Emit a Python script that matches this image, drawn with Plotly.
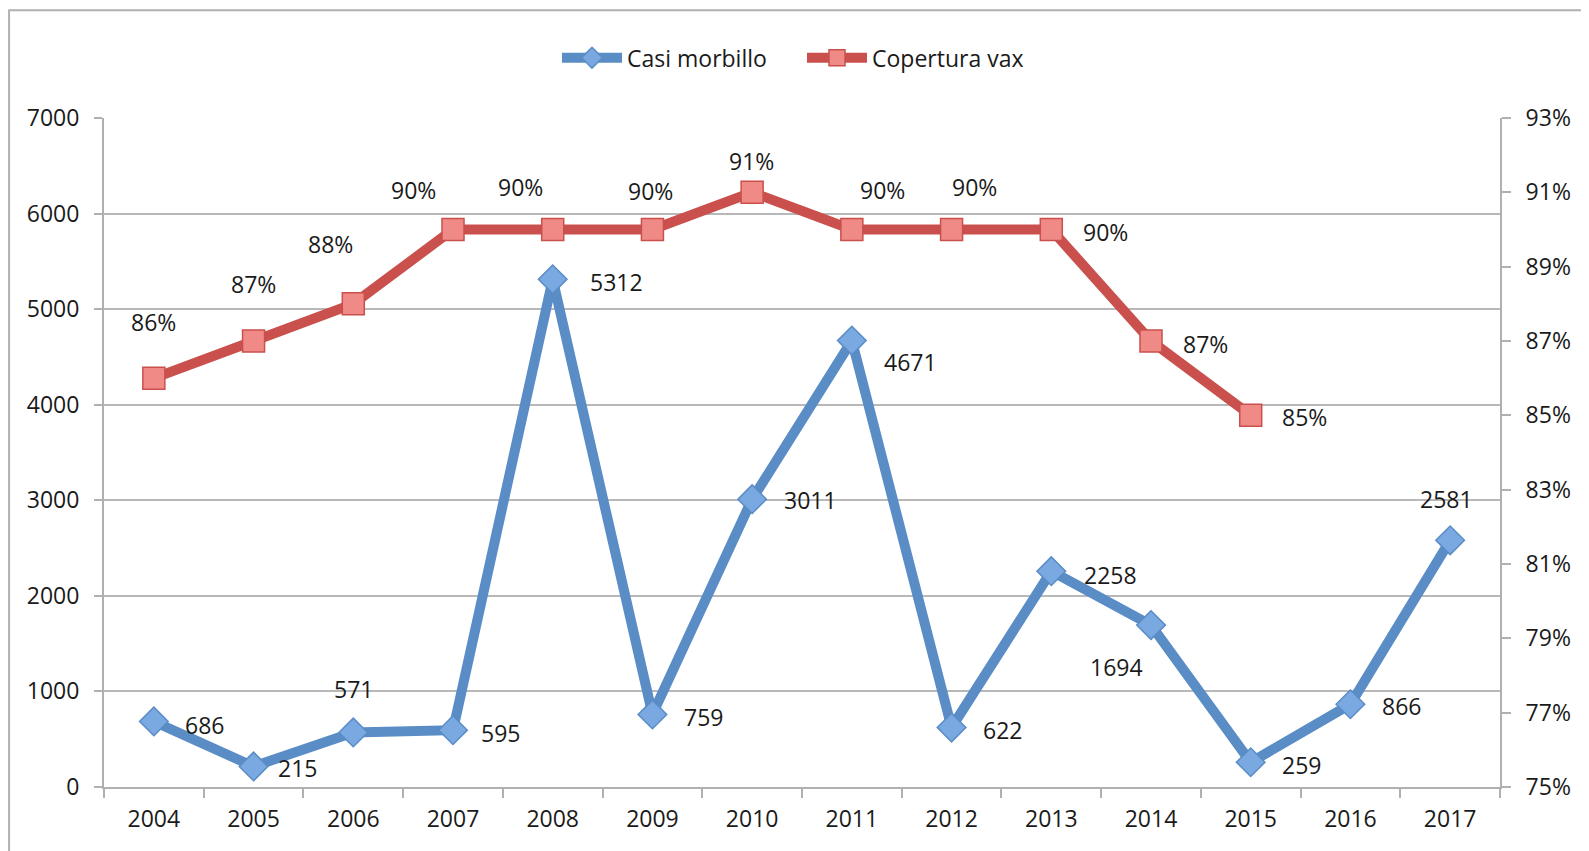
import plotly.graph_objects as go

# dati
anni = ["2004", "2005", "2006", "2007", "2008", "2009", "2010",
        "2011", "2012", "2013", "2014", "2015", "2016", "2017"]
casi_morbillo = [686, 215, 571, 595, 5312, 759, 3011, 4671, 622, 2258, 1694, 259, 866, 2581]
copertura_vax = [0.86, 0.87, 0.88, 0.90, 0.90, 0.90, 0.91, 0.90, 0.90, 0.90, 0.87, 0.85, None, None]

# spostamento etichette (pixel, dx, dy verso il basso)
off_casi = [(51, 4), (44, 2), (0, -43), (47, 3), (64, 3), (51, 3), (58, 1),
            (59, 21), (51, 2), (59, 4), (-35, 42), (51, 3), (51, 2), (-4, -41)]
off_cop = [(0, -56), (0, -57), (-23, -60), (-40, -40), (-32, -43), (-2, -39), (-1, -31),
           (31, -40), (23, -43), (54, 2), (54, 3), (54, 2)]

FONT = "Open Sans"
FS = 23
BLU = "#5A8CC6"
ROSSO = "#C9504D"

fig = go.Figure()

fig.add_trace(go.Scatter(
    x=anni, y=casi_morbillo, name="Casi morbillo", mode="lines+markers",
    line=dict(color=BLU, width=10),
    marker=dict(symbol="diamond", size=22, color="#7AA8E0", line=dict(color=BLU, width=1.5)),
    yaxis="y",
))
fig.add_trace(go.Scatter(
    x=anni, y=copertura_vax, name="Copertura vax", mode="lines+markers",
    line=dict(color=ROSSO, width=10),
    marker=dict(symbol="square", size=22, color="#F08A86", line=dict(color=ROSSO, width=1.5)),
    yaxis="y2",
))

annots = []
for i, (v, (dx, dy)) in enumerate(zip(casi_morbillo, off_casi)):
    annots.append(dict(x=i, y=v, xref="x", yref="y", text=str(v), showarrow=False,
                       xshift=dx, yshift=-dy, font=dict(family=FONT, size=FS, color="#1a1a1a")))
for i, (v, (dx, dy)) in enumerate(zip(copertura_vax, off_cop)):
    if v is None:
        continue
    annots.append(dict(x=i, y=v, xref="x", yref="y2", text=f"{round(v * 100)}%", showarrow=False,
                       xshift=dx, yshift=-dy, font=dict(family=FONT, size=FS, color="#1a1a1a")))

fig.update_layout(
    width=1589, height=851,
    margin=dict(l=96, r=97, t=110, b=72),
    paper_bgcolor="white", plot_bgcolor="white",
    font=dict(family=FONT, size=FS, color="#1a1a1a"),
    showlegend=True,
    legend=dict(orientation="h", x=0.5, xanchor="center", y=1.09, yanchor="middle",
                font=dict(size=FS), itemwidth=60, traceorder="normal",
                entrywidth=170, entrywidthmode="pixels"),
    annotations=annots,
    xaxis=dict(type="category", tickson="boundaries", ticks="outside", ticklen=9,
               tickcolor="#B0B0B0", tickwidth=2, showline=True, linecolor="#B0B0B0",
               linewidth=2, showgrid=False, range=[-0.5, 13.5], ticklabelstandoff=10),
    yaxis=dict(range=[0, 7000], dtick=1000, ticks="outside", ticklen=8, tickcolor="#B0B0B0",
               tickwidth=2, showline=True, linecolor="#B0B0B0", linewidth=2,
               gridcolor="#B8B8B8", gridwidth=2, zeroline=False, ticklabelstandoff=10),
    yaxis2=dict(range=[0.75, 0.93], tick0=0.75, dtick=0.02, tickformat=".0%", overlaying="y",
                side="right", ticks="outside", ticklen=9, tickcolor="#B0B0B0", tickwidth=2,
                showline=True, linecolor="#B0B0B0", linewidth=2, showgrid=False,
                zeroline=False, ticklabelstandoff=10),
    shapes=[dict(type="rect", xref="paper", yref="paper", x0=-0.068, x1=1.064,
                 y0=-0.15, y1=1.161, line=dict(color="#B0B0B0", width=2), layer="below")],
)

fig.write_html("out.html")
